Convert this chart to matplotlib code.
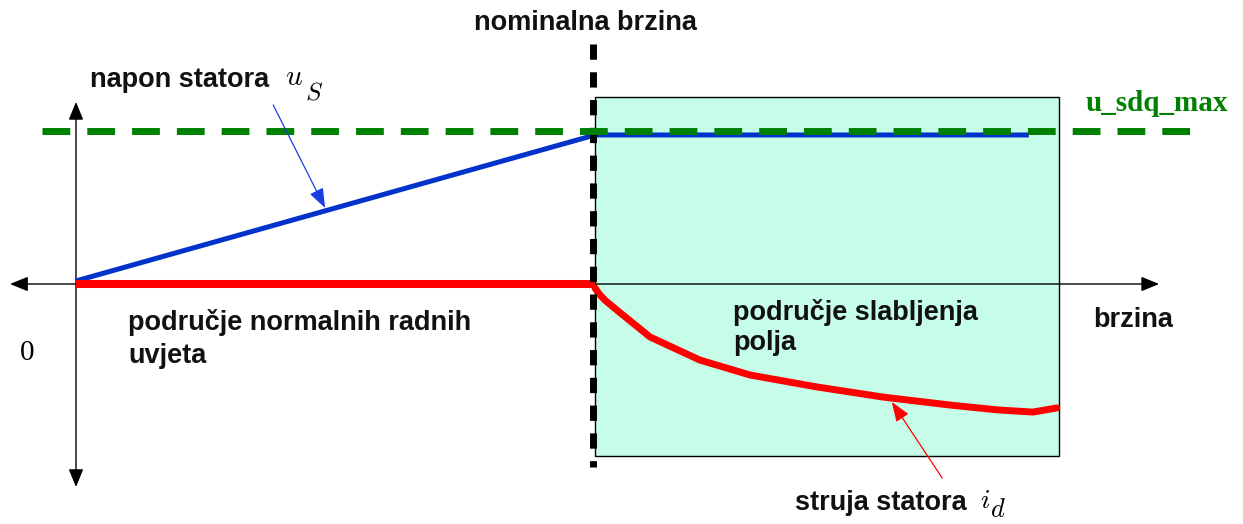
import matplotlib
matplotlib.use("Agg")
import matplotlib.pyplot as plt
from matplotlib.patches import Rectangle

# speed normalised to nominal speed, voltage/current normalised to u_sdq_max
SPEED_NOM = 1.0
U_MAX = 1.0
SPEED_FW_END = 1.894  # end of field-weakening area (shaded box)

us_speed = [0.0, 1.0, 1.836]
us_value = [0.02, 0.974, 0.974]

id_speed_normal = [0.0, 1.0]
id_value_normal = [0.0, 0.0]

id_speed_fw = [1.0, 1.008, 1.019, 1.042, 1.106, 1.202, 1.299, 1.428, 1.555, 1.684, 1.776, 1.844, 1.890]
id_value_fw = [-0.026, -0.065, -0.105, -0.170, -0.346, -0.497, -0.595, -0.673, -0.739, -0.791, -0.823, -0.837, -0.810]

SANS = "Liberation Sans"
SERIF = "Liberation Serif"
plt.rcParams["mathtext.fontset"] = "cm"

fig = plt.figure(figsize=(12.43, 5.24), dpi=100)
ax = fig.add_axes([0, 0, 1, 1])
ax.set_xlim(-0.1464, 2.2486)
ax.set_ylim(-1.5686, 1.8562)
ax.axis("off")

# field weakening area
ax.add_patch(Rectangle((SPEED_NOM, -1.124), SPEED_FW_END - SPEED_NOM, 2.346,
                       facecolor="#c6fde8", edgecolor="black", lw=1.0, zorder=1))

# axes with arrows
arr = dict(arrowstyle="<|-|>,head_length=1.1,head_width=0.45", color="black",
           lw=1.0, shrinkA=0, shrinkB=0)
ax.annotate("", xy=(2.087, 0), xytext=(-0.127, 0), arrowprops=arr, zorder=2)
ax.annotate("", xy=(0, 1.19), xytext=(0, -1.327), arrowprops=arr, zorder=2)

# curves
ax.plot(us_speed, us_value, color="#0032cc", lw=3.6, solid_capstyle="butt", zorder=3)
ax.plot(id_speed_normal, id_value_normal, color="#ff0000", lw=5.8,
        solid_capstyle="butt", zorder=3)
ax.plot(id_speed_fw, id_value_fw, color="#ff0000", lw=5.0,
        solid_capstyle="round", solid_joinstyle="round", zorder=3)

# nominal speed marker
ax.plot([0.996, 0.996], [1.569, -1.196], color="black", lw=5.0,
        dashes=(2.2, 1.8), solid_capstyle="butt", dash_capstyle="butt", zorder=4)

# u_sdq_max limit
ax.plot([-0.0655, 2.175], [U_MAX, U_MAX], color="#008000", lw=5.0,
        dashes=(4.0, 2.45), dash_capstyle="butt", zorder=5)

# annotation arrows
ax.annotate("", xy=(0.480, 0.497), xytext=(0.380, 1.170),
            arrowprops=dict(arrowstyle="-|>,head_length=1.2,head_width=0.45",
                            color="#1a3fe0", lw=0.9, shrinkA=0, shrinkB=0), zorder=6)
ax.annotate("", xy=(1.572, -0.771), xytext=(1.669, -1.268),
            arrowprops=dict(arrowstyle="-|>,head_length=1.2,head_width=0.45",
                            color="#ff0000", lw=0.9, shrinkA=0, shrinkB=0), zorder=6)

lab = dict(family=SANS, weight="bold", fontsize=19.5, color="#111111", va="baseline")
ax.text(0.981, 1.660, "nominalna brzina", ha="center", **lab)
ax.text(0.027, 1.288, "napon statora", ha="left", **lab)
ax.text(0.100, -0.301, "područje normalnih radnih", ha="left", **lab)
ax.text(0.100, -0.516, "uvjeta", ha="left", **lab)
ax.text(1.266, -0.235, "područje slabljenja", ha="left", **lab)
ax.text(1.266, -0.431, "polja", ha="left", **lab)
ax.text(1.960, -0.281, "brzina", ha="left", **lab)
ax.text(1.385, -1.477, "struja statora", ha="left", **lab)

# math symbols
ax.text(0.403, 1.300, "$u$", fontsize=21, va="baseline", ha="left")
ax.text(0.441, 1.203, "$S$", fontsize=18, va="baseline", ha="left")
ax.text(1.742, -1.464, "$i$", fontsize=20, va="baseline", ha="left")
ax.text(1.762, -1.525, "$d$", fontsize=19, va="baseline", ha="left")

ax.text(-0.094, -0.497, "0", family=SERIF, fontsize=21, ha="center", va="baseline")
ax.text(1.946, 1.131, "u_sdq_max", family=SERIF, weight="bold", fontsize=21,
        color="#008000", ha="left", va="baseline")

fig.savefig("out.png", dpi=100)
